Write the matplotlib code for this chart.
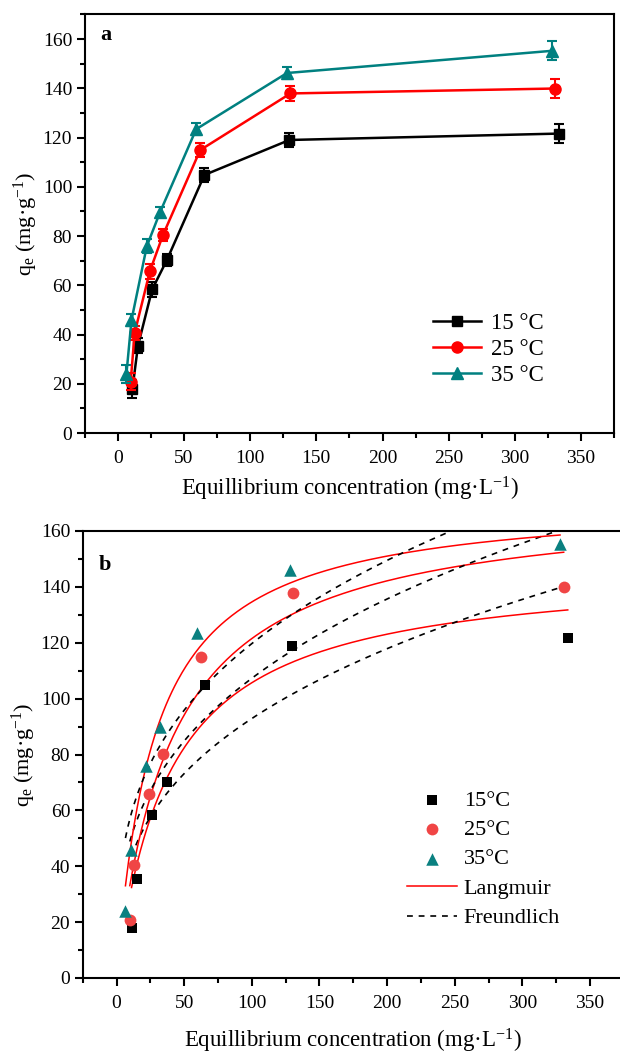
import matplotlib
matplotlib.use('Agg')
import matplotlib.pyplot as plt
import numpy as np

plt.rcParams['font.family'] = ['Liberation Serif', 'DejaVu Serif']
plt.rcParams['mathtext.fontset'] = 'custom'
plt.rcParams['mathtext.rm'] = 'Liberation Serif'
plt.rcParams['mathtext.it'] = 'Liberation Serif:italic'

# equilibrium data (Ce, qe) per temperature
ce_15 = [11.1, 15.3, 26.0, 37.1, 65.5, 129.7, 333.5]
qe_15 = [17.8, 35.4, 58.3, 70.2, 104.8, 119.0, 121.6]
err_15 = [3.6, 3.0, 3.0, 2.5, 3.0, 3.0, 3.9]

ce_25 = [9.8, 12.8, 24.3, 34.1, 62.3, 130.5, 330.5]
qe_25 = [20.8, 40.6, 65.7, 80.3, 114.9, 137.9, 139.9]
err_25 = [3.5, 3.0, 3.0, 2.5, 3.0, 3.0, 3.9]

ce_35 = [6.6, 10.4, 22.0, 32.0, 59.3, 127.9, 327.8]
qe_35 = [24.0, 45.8, 75.9, 89.7, 123.4, 146.2, 155.2]
err_35 = [3.5, 2.5, 3.0, 2.0, 2.5, 2.5, 3.8]

# fitted isotherm parameters
lang_qm = [147.3, 171.3, 172.0]
lang_kl = [0.0254, 0.0244, 0.036]
freu_kf = [19.05, 22.56, 27.36]
freu_inv_n = [0.344, 0.3386, 0.3205]

labels = ['15 °C', '25 °C', '35 °C']
ces = [ce_15, ce_25, ce_35]
qes = [qe_15, qe_25, qe_35]
errs = [err_15, err_25, err_35]

top_colors = ['black', '#FF0000', '#008080']
bot_colors = ['black', '#F04545', '#0A8080']
markers = ['s', 'o', '^']
msize_top = [7.5, 8, 8.5]
msize_bot = [7.5, 8.5, 9]

W, H = 620, 1053
fig = plt.figure(figsize=(W / 100, H / 100), dpi=100)

ax1 = fig.add_axes([84.6 / W, 1 - 433 / H, 529.6 / W, 418.6 / H])
ax2 = fig.add_axes([82.7 / W, 1 - 978 / H, 541.2 / W, 447 / H])


def style(ax, ylim_top, xmax, xpad):
    ax.set_xlim(-25, xmax)
    ax.set_ylim(0, ylim_top)
    ax.set_xticks(np.arange(0, 351, 50))
    ax.set_xticks(np.arange(-25, 376, 25), minor=True)
    ax.set_yticks(np.arange(0, 161, 20))
    ax.set_yticks(np.arange(0, ylim_top + 1, 10), minor=True)
    ax.tick_params(which='both', direction='out', top=False, right=False,
                   width=1.5, labelsize=14)
    ax.tick_params(which='major', length=6)
    ax.tick_params(which='minor', length=3.5)
    ax.tick_params(axis='x', pad=6)
    ax.tick_params(axis='y', pad=3)
    for s in ax.spines.values():
        s.set_linewidth(1.5)
    ax.set_xlabel('Equillibrium concentration (mg·L$^{-1}$)', fontsize=16.5, labelpad=xpad)
    ax.set_ylabel('q$_\\mathrm{e}$ (mg·g$^{-1}$)', fontsize=16, labelpad=2)


# panel a: data with error bars
for i in range(3):
    ax1.errorbar(ces[i], qes[i], yerr=errs[i], color=top_colors[i], fmt='none',
                 elinewidth=1.5, capsize=3.8, capthick=1.5)
    ax1.plot(ces[i], qes[i], color=top_colors[i], marker=markers[i],
             ms=msize_top[i], lw=1.8, label=labels[i])
style(ax1, 170, 372, 6)
ax1.text(0.03, 0.95, 'a', transform=ax1.transAxes, fontsize=16, fontweight='bold',
         va='center', ha='left')
ax1.legend(loc='upper left', bbox_to_anchor=(433 / W, 1 - 313 / H),
           bbox_transform=fig.transFigure, frameon=False, fontsize=16.5,
           handlelength=2.1, handletextpad=0.45, labelspacing=0.22,
           borderpad=0, borderaxespad=0)

# panel b: data with Langmuir / Freundlich fits
for i in range(3):
    ax2.scatter(ces[i], qes[i], color=bot_colors[i], marker=markers[i],
                s=msize_bot[i] ** 2, lw=0, zorder=3, label=labels[i].replace(' ', ''))
for i in range(3):
    c = np.linspace(ces[i][0], ces[i][-1], 300)
    ql = lang_qm[i] * lang_kl[i] * c / (1 + lang_kl[i] * c)
    qf = freu_kf[i] * c ** freu_inv_n[i]
    ax2.plot(c, ql, color='#FF0000', lw=1.1, label='Langmuir' if i == 0 else None)
    ax2.plot(c, qf, color='black', lw=1.2, ls=(0, (3.5, 3.5)),
             label='Freundlich' if i == 0 else None)
style(ax2, 160, 375, 11)
ax2.text(0.03, 0.925, 'b', transform=ax2.transAxes, fontsize=16, fontweight='bold',
         va='center', ha='left')
h, l = ax2.get_legend_handles_labels()
ax2.legend(h, l, loc='upper left', bbox_to_anchor=(407 / W, 1 - 790 / H),
           bbox_transform=fig.transFigure, frameon=False, fontsize=16,
           handlelength=2.25, handletextpad=0.3, labelspacing=0.4,
           borderpad=0, borderaxespad=0)

fig.savefig('out.png', dpi=100)
